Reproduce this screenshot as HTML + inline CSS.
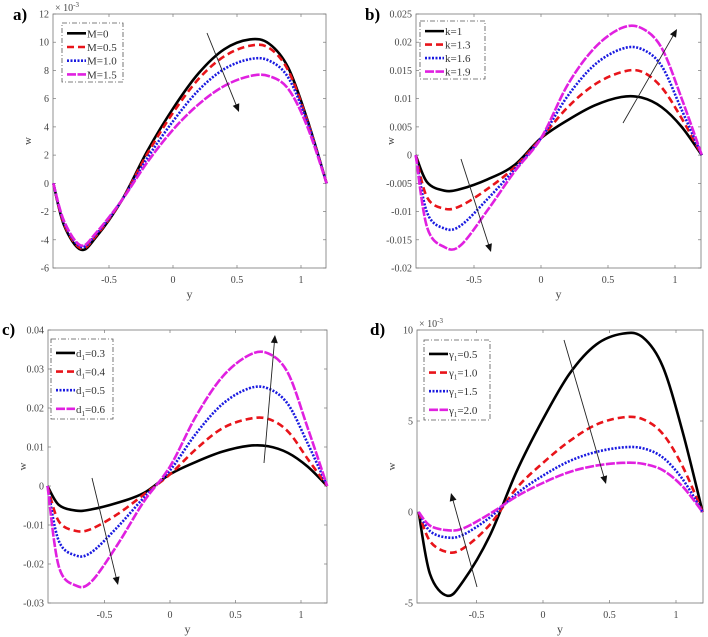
<!DOCTYPE html>
<html><head><meta charset="utf-8"><style>
html,body{margin:0;padding:0;background:#fff;}
svg{display:block;font-family:"Liberation Serif",serif;}
</style></head><body>
<svg id="fig" width="708" height="637" viewBox="0 0 708 637"></svg>
<script>
// ---- data ----
const xPoints = [-0.935,-0.85,-0.72,-0.6,-0.4,-0.2,0,0.2,0.4,0.6,0.75,0.9,1.05,1.2];
const aLabels = ["M=0","M=0.5","M=1.0","M=1.5"];
const aM0  = [0,-3.0,-4.7,-3.8,-1.2,2.3,5.3,7.8,9.5,10.2,9.9,8.2,4.5,0];
const aM05 = [0,-2.9,-4.6,-3.7,-1.2,2.1,5.0,7.4,9.0,9.75,9.6,8.0,4.4,0];
const aM10 = [0,-2.8,-4.5,-3.6,-1.2,1.8,4.4,6.6,8.1,8.8,8.7,7.5,4.3,0];
const aM15 = [0,-2.7,-4.4,-3.5,-1.2,1.5,3.8,5.6,6.9,7.6,7.6,6.7,4.0,0];
const aTicksY = [-6,-4,-2,0,2,4,6,8,10,12];
const bLabels = ["k=1","k=1.3","k=1.6","k=1.9"];
const bK1  = [0,-0.0048,-0.0063,-0.006,-0.0043,-0.0018,0.003,0.0062,0.0088,0.0103,0.0102,0.0085,0.005,0];
const bK13 = [0,-0.0075,-0.0095,-0.009,-0.006,-0.0022,0.003,0.0085,0.0125,0.0147,0.0148,0.012,0.0065,0];
const bK16 = [0,-0.0102,-0.013,-0.0125,-0.0078,-0.0026,0.003,0.0105,0.016,0.0188,0.0188,0.0158,0.008,0];
const bK19 = [0,-0.0128,-0.0163,-0.016,-0.0098,-0.003,0.003,0.0125,0.019,0.0225,0.0225,0.019,0.01,0];
const bTicksY = [-0.02,-0.015,-0.01,-0.005,0,0.005,0.01,0.015,0.02,0.025];
const cLabels = ["0.3","0.4","0.5","0.6"];
const cD03 = [0,-0.0048,-0.0063,-0.006,-0.0043,-0.0018,0.003,0.0062,0.0088,0.0103,0.0102,0.0085,0.005,0];
const cD04 = [0,-0.009,-0.0115,-0.011,-0.0072,-0.0022,0.003,0.0095,0.0148,0.0172,0.0172,0.014,0.007,0];
const cD05 = [0,-0.014,-0.0178,-0.017,-0.0105,-0.003,0.004,0.0135,0.021,0.025,0.025,0.021,0.011,0];
const cD06 = [0,-0.0205,-0.0255,-0.0245,-0.015,-0.004,0.005,0.018,0.028,0.0335,0.034,0.029,0.015,0];
const cTicksY = [-0.03,-0.02,-0.01,0,0.01,0.02,0.03,0.04];
const dLabels = ["0.5","1.0","1.5","2.0"];
const dG05 = [0,-3.4,-4.6,-3.8,-1.3,2.2,5.1,7.6,9.2,9.8,9.6,8.0,4.4,0];
const dG10 = [0,-1.6,-2.2,-2.0,-0.7,1.3,2.7,3.9,4.8,5.2,5.1,4.3,2.5,0];
const dG15 = [0,-1.05,-1.4,-1.25,-0.3,1.0,2.0,2.8,3.3,3.55,3.5,3.0,1.8,0];
const dG20 = [0,-0.75,-1.0,-0.9,-0.1,0.85,1.6,2.2,2.55,2.7,2.65,2.3,1.4,0];
const dTicksY = [-5,0,5,10];
const xTicks = [-0.5,0,0.5,1];

const NS="http://www.w3.org/2000/svg";
const svg=document.getElementById('fig');
function mk(tag,attrs,parent){const e=document.createElementNS(NS,tag);for(const k in attrs)e.setAttribute(k,attrs[k]);(parent||svg).appendChild(e);return e;}
const styles=[
 {stroke:"#000",dash:""},
 {stroke:"#e8141a",dash:"7,4"},
 {stroke:"#1a1ae0",dash:"2,1.5"},
 {stroke:"#e020e0",dash:"9,1.5"}];

function panel(p){
  const g=mk('g',{});
  
  
  const sx=v=>p.x0px+(v-0)*p.ux;
  const sy=v=>p.bottom-(v-p.ymin)/(p.ymax-p.ymin)*(p.bottom-p.top);
  const box=mk('rect',{x:p.left,y:p.top,width:p.right-p.left,height:p.bottom-p.top,fill:"#fff",stroke:"#777","stroke-width":0.8},g);
  
  
  p.ticksY.forEach(t=>{
    const y=sy(t);
    mk('line',{x1:p.left,x2:p.left+3,y1:y,y2:y,stroke:"#777","stroke-width":0.7},g);
    mk('line',{x1:p.right,x2:p.right-3,y1:y,y2:y,stroke:"#777","stroke-width":0.7},g);
    const tx=mk('text',{x:p.left-4,y:y+3.5,"font-size":10,"text-anchor":"end",fill:"#444"},g);
    tx.textContent=p.fmtY(t);
    
    
  });
  xTicks.forEach(t=>{
    const x=sx(t);
    mk('line',{x1:x,x2:x,y1:p.bottom,y2:p.bottom-3,stroke:"#777","stroke-width":0.7},g);
    mk('line',{x1:x,x2:x,y1:p.top,y2:p.top+3,stroke:"#777","stroke-width":0.7},g);
    const tx=mk('text',{x:x,y:p.bottom+15,"font-size":10,"text-anchor":"middle",fill:"#444"},g);
    tx.textContent=String(t);
    
    
  });
  if(p.exp){const e=mk('text',{x:p.left+2,y:p.top-3,"font-size":10,fill:"#444"},g);
    e.innerHTML='× 10<tspan dy="-4" font-size="7">-3</tspan>';
    
    }
  const yl=mk('text',{x:0,y:0,"font-size":11,"text-anchor":"middle",fill:"#444",transform:`translate(${p.left-22},${(p.top+p.bottom)/2}) rotate(-90)`},g);
  yl.textContent='w';
  
  
  const xl=mk('text',{x:(p.left+p.right)/2,y:p.bottom+30,"font-size":12,"text-anchor":"middle",fill:"#444"},g);
  xl.textContent='y';
  
  
  const pl=mk('text',{x:p.labX,y:p.labY,"font-size":17,"font-weight":"bold",fill:"#000"},g);
  pl.textContent=p.id+')';
  
  
  p.series.forEach((s,i)=>{
    const pts=xPoints.map((x,j)=>[sx(x),sy(s[j])]);
    let d=`M${pts[0][0]},${pts[0][1]}`;
    for(let j=0;j<pts.length-1;j++){
      const p0=pts[Math.max(0,j-1)],p1=pts[j],p2=pts[j+1],p3=pts[Math.min(pts.length-1,j+2)];
      const c1=[p1[0]+(p2[0]-p0[0])/6,p1[1]+(p2[1]-p0[1])/6];
      const c2=[p2[0]-(p3[0]-p1[0])/6,p2[1]-(p3[1]-p1[1])/6];
      d+=`C${c1[0]},${c1[1]} ${c2[0]},${c2[1]} ${p2[0]},${p2[1]}`;
    }
    const path=mk('path',{d:d,fill:"none",stroke:styles[i].stroke,"stroke-width":2.6,"stroke-dasharray":styles[i].dash},g);
    
    
  });
  const L=p.leg;
  const lg=mk('g',{},g);
  
  
  mk('rect',{x:L[0],y:L[1],width:L[2]-L[0],height:L[3]-L[1],fill:"#fff",stroke:"#555","stroke-width":0.8,"stroke-dasharray":"5,2,1,2"},lg);
  const step=(L[3]-L[1])/4.3;
  p.labels.forEach((lab,i)=>{
    const y=L[1]+step*(i+0.75);
    mk('line',{x1:L[0]+5,x2:L[0]+24,y1:y,y2:y,stroke:styles[i].stroke,"stroke-width":2.6,"stroke-dasharray":styles[i].dash},lg);
    const t=mk('text',{x:L[0]+25,y:y+4,"font-size":11,fill:"#333"},lg);
    if(p.labType==='d') t.innerHTML='d<tspan dy="3" font-size="7">1</tspan><tspan dy="-3">='+lab+'</tspan>';
    else if(p.labType==='g') t.innerHTML='γ<tspan dy="3" font-size="7">1</tspan><tspan dy="-3">='+lab+'</tspan>';
    else t.textContent=lab;
    
    
  });
  p.arrows.forEach(a=>{
    const [x1,y1,x2,y2]=a;const ang=Math.atan2(y2-y1,x2-x1);
    mk('line',{x1,y1,x2:x2-6*Math.cos(ang),y2:y2-6*Math.sin(ang),stroke:"#222","stroke-width":0.9},g);
    const h=8,w=3.5;
    const bx=x2-h*Math.cos(ang),by=y2-h*Math.sin(ang);
    const ar=mk('polygon',{points:`${x2},${y2} ${bx+w*Math.sin(ang)},${by-w*Math.cos(ang)} ${bx-w*Math.sin(ang)},${by+w*Math.cos(ang)}`,fill:"#111"},g);
    
    
  });
}
const fmt=v=>String(v);
panel({id:'a',left:53,right:326,top:14,bottom:268,x0px:173,ux:128,ymin:-6,ymax:12,ticksY:aTicksY,fmtY:fmt,exp:true,
  labX:13,labY:20,series:[aM0,aM05,aM10,aM15],labels:aLabels,leg:[62,23,123,82],arrows:[[207,33,239,112]]});
panel({id:'b',left:416,right:701,top:14,bottom:268,x0px:541,ux:134,ymin:-0.02,ymax:0.025,ticksY:bTicksY,fmtY:fmt,
  labX:365,labY:20,series:[bK1,bK13,bK16,bK19],labels:bLabels,leg:[420,21,485,79],arrows:[[461,159,491,252],[623,123,677,29]]});
panel({id:'c',left:48,right:327,top:330,bottom:603,x0px:170,ux:131,ymin:-0.03,ymax:0.04,ticksY:cTicksY,fmtY:fmt,
  labX:2,labY:335,series:[cD03,cD04,cD05,cD06],labels:cLabels,labType:'d',leg:[51,339,113,419],arrows:[[92,478,118,585],[264,463,275,335]]});
panel({id:'d',left:417,right:703,top:330,bottom:603,x0px:543,ux:133,ymin:-5,ymax:10,ticksY:dTicksY,fmtY:fmt,exp:true,
  labX:370,labY:335,series:[dG05,dG10,dG15,dG20],labels:dLabels,labType:'g',leg:[424,340,490,420],arrows:[[564,340,606,484],[477,587,451,493]]});
</script>
</body></html>
